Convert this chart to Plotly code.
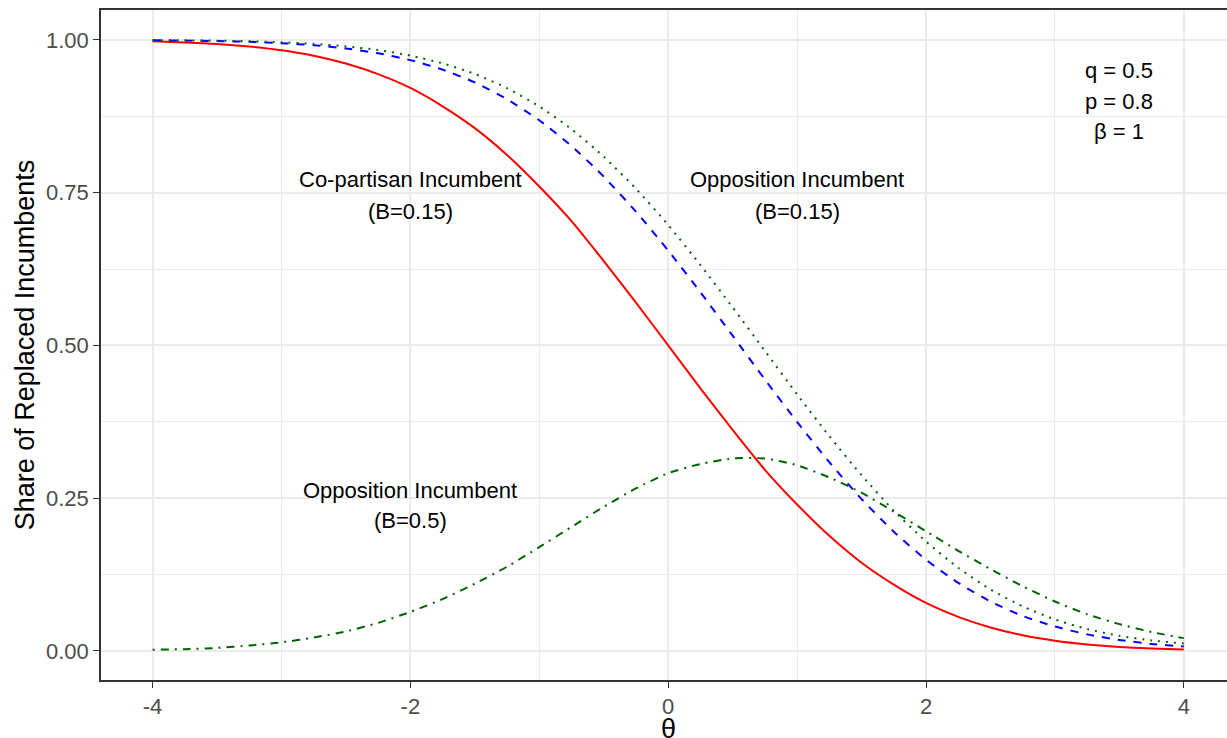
import plotly.graph_objects as go

theta = [-4.0, -3.75, -3.5, -3.25, -3.0, -2.75, -2.5, -2.25, -2.0, -1.75, -1.5, -1.25,
         -1.0, -0.75, -0.5, -0.25, 0.0, 0.25, 0.5, 0.75, 1.0, 1.25, 1.5, 1.75,
         2.0, 2.25, 2.5, 2.75, 3.0, 3.25, 3.5, 3.75, 4.0]

copartisan_b015 = [0.9977, 0.9959, 0.9934, 0.9892, 0.9831, 0.9742, 0.9615, 0.9441, 0.9214,
                   0.8914, 0.8556, 0.8116, 0.7602, 0.7035, 0.6382, 0.5702, 0.5000, 0.4298,
                   0.3618, 0.2965, 0.2398, 0.1884, 0.1444, 0.1086, 0.0786, 0.0559, 0.0385,
                   0.0258, 0.0169, 0.0108, 0.0066, 0.0041, 0.0023]

opposition_b015_blue = [0.9995, 0.9990, 0.9982, 0.9969, 0.9947, 0.9913, 0.9861, 0.9782, 0.9670,
                        0.9514, 0.9305, 0.9030, 0.8685, 0.8264, 0.7763, 0.7190, 0.6554, 0.5871,
                        0.5160, 0.4443, 0.3748, 0.3089, 0.2486, 0.1952, 0.1494, 0.1115, 0.0810,
                        0.0573, 0.0400, 0.0272, 0.0180, 0.0115, 0.0072]

opposition_b015_green = [0.9996, 0.9993, 0.9988, 0.9978, 0.9962, 0.9936, 0.9895, 0.9834, 0.9744,
                         0.9617, 0.9443, 0.9211, 0.8912, 0.8540, 0.8090, 0.7565, 0.6971, 0.6316,
                         0.5624, 0.4912, 0.4200, 0.3516, 0.2877, 0.2297, 0.1791, 0.1361, 0.1007,
                         0.0730, 0.0515, 0.0358, 0.0248, 0.0172, 0.0122]

opposition_b05 = [0.002, 0.003, 0.005, 0.009, 0.014, 0.022, 0.032, 0.046, 0.064, 0.085, 0.110,
                  0.138, 0.170, 0.203, 0.236, 0.266, 0.291, 0.306, 0.315, 0.315, 0.304, 0.284,
                  0.259, 0.228, 0.196, 0.164, 0.134, 0.106, 0.081, 0.060, 0.044, 0.031, 0.021]

x_tick_vals = [-4, -2, 0, 2, 4]
x_tick_labels = ["-4", "-2", "0", "2", "4"]
y_tick_vals = [0.0, 0.25, 0.5, 0.75, 1.0]
y_tick_labels = ["0.00", "0.25", "0.50", "0.75", "1.00"]

FONT = "Liberation Sans, Arial, Helvetica, sans-serif"

fig = go.Figure()
series = [
    (copartisan_b015, "#FF0000", "solid"),
    (opposition_b015_blue, "#0000FF", "8px,8px"),
    (opposition_b015_green, "#006400", "2px,6px"),
    (opposition_b05, "#006400", "2px,6px,8px,6px"),
]
for ys, col, dash in series:
    fig.add_trace(go.Scatter(x=theta, y=ys, mode="lines",
                             line=dict(color=col, width=2, dash=dash, shape="spline", smoothing=0.6),
                             showlegend=False, hoverinfo="skip"))

ann_font = dict(family=FONT, size=22, color="black")
annots = [
    (-2, 0.772, "Co-partisan Incumbent"),
    (-2, 0.720, "(B=0.15)"),
    (1, 0.772, "Opposition Incumbent"),
    (1, 0.720, "(B=0.15)"),
    (-2, 0.263, "Opposition Incumbent"),
    (-2, 0.213, "(B=0.5)"),
    (3.5, 0.950, "q = 0.5"),
    (3.5, 0.900, "p = 0.8"),
    (3.5, 0.850, "β = 1"),
]
for ax_, ay_, txt in annots:
    fig.add_annotation(x=ax_, y=ay_, text=txt, showarrow=False, font=ann_font,
                       xanchor="center", yanchor="middle")

# x-axis title (placed like ggplot: centred under the panel, partly below the page edge)
fig.add_annotation(x=0, xref="x", y=-0.048, yref="paper", yanchor="top", xanchor="center",
                   text="θ", showarrow=False, font=dict(family=FONT, size=27, color="black"))

axis_common = dict(
    showgrid=True, gridcolor="#EBEBEB", gridwidth=2,
    zeroline=False, showline=True, linecolor="#333333", linewidth=1.5,
    ticks="outside", ticklen=6, tickwidth=1.3, tickcolor="#333333",
    tickfont=dict(family=FONT, size=22, color="#4D4D4D"), automargin=False,
)

fig.update_xaxes(**axis_common, range=[-4.4, 4.335], mirror=True,
                 tickvals=x_tick_vals, ticktext=x_tick_labels,
                 minor=dict(showgrid=True, gridcolor="#EBEBEB", gridwidth=1.2,
                            tickvals=[-3, -1, 1, 3], ticks=""))
fig.update_yaxes(**axis_common, range=[-0.0475, 1.049], mirror=False,
                 tickvals=y_tick_vals, ticktext=y_tick_labels,
                 minor=dict(showgrid=True, gridcolor="#EBEBEB", gridwidth=1.2,
                            tickvals=[0.125, 0.375, 0.625, 0.875], ticks=""),
                 title=dict(text="Share of Replaced Incumbents",
                            font=dict(family=FONT, size=27, color="black"), standoff=4))

fig.update_layout(width=1227, height=738, margin=dict(l=101, r=0, t=10, b=58),
                  plot_bgcolor="white", paper_bgcolor="white")

fig.write_html("out.html", config={"displayModeBar": False},
               post_script="document.body.style.margin='0';")
